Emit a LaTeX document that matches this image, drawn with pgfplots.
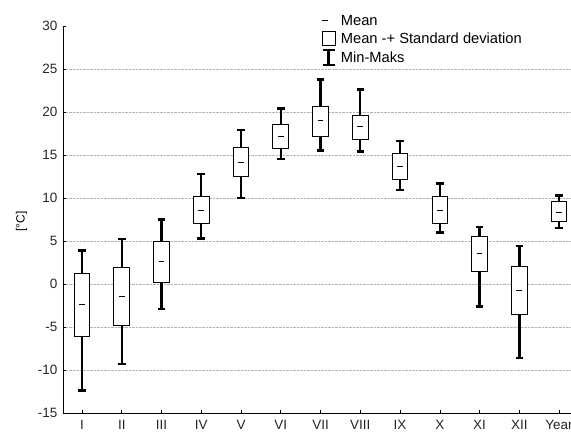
\documentclass[border=0pt]{standalone}
\usepackage{pgfplots}
\pgfplotsset{compat=1.18}
\usepgfplotslibrary{statistics}
\usepackage{pgfplotstable}
\usepackage{fontspec}
\setmainfont{Liberation Sans}

\pgfplotstableread{
x mean lo hi min max
1 -2.4 -6.05 1.2 -12.4 3.9
2 -1.4 -4.8 1.9 -9.3 5.2
3 2.6 0.2 5.0 -2.9 7.5
4 8.5 7.0 10.15 5.3 12.8
5 14.1 12.5 15.85 10.0 17.9
6 17.2 15.8 18.6 14.5 20.4
7 19.0 17.1 20.7 15.5 23.8
8 18.3 16.8 19.6 15.4 22.6
9 13.7 12.2 15.2 10.9 16.6
10 8.6 7.0 10.15 6.0 11.7
11 3.5 1.5 5.5 -2.6 6.6
12 -0.7 -3.5 2.0 -8.6 4.45
13 8.3 7.25 9.55 6.5 10.3
}\data

\begin{document}
\begin{tikzpicture}
\begin{axis}[
  name=ax,
  scale only axis,
  width=508pt, height=387pt,
  xmin=0.522, xmax=13.3,
  ymin=-15, ymax=30,
  axis x line=bottom, axis y line=left,
  axis line style={-, line width=0.9pt, black},
  xtick={1,...,13},
  xticklabels={I,II,III,IV,V,VI,VII,VIII,IX,X,XI,XII,Year},
  ytick={-10,-5,...,25},
  extra y ticks={-15,30},
  extra y tick style={grid=none},
  ymajorgrids,
  grid style={densely dotted, black!30, line width=0.5pt},
  tick align=inside,
  major tick length=3pt,
  tick style={black, line width=0.6pt},
  ticklabel style={font=\fontsize{13.5}{15}\selectfont, text=black!85},
  yticklabel style={xshift=-2pt},
  xticklabel style={yshift=-4pt},
  /pgf/number format/assume math mode=true,
  ylabel={[°C]},
  ylabel style={font=\fontsize{12}{14}\selectfont, xshift=-2pt, yshift=4pt},
  legend style={at={(rel axis cs:0.508,1.034)}, anchor=north west, draw=none, fill=none,
    font=\fontsize{14.7}{17}\selectfont, legend cell align=left, row sep=2pt, column sep=3pt, inner sep=0pt},
  boxplot/draw direction=y,
  boxplot/box extend=0.395,
  boxplot/whisker extend=0.19,
  boxplot/every box/.style={draw=black, fill=white, line width=0.9pt},
  boxplot/every whisker/.style={draw=black, line width=2.4pt},
  boxplot/draw/median/.code={\draw[black, line width=0.8pt]
    (boxplot box cs:\pgfplotsboxplotvalue{median},0.32) --
    (boxplot box cs:\pgfplotsboxplotvalue{median},0.68);},
]
\addlegendimage{legend image code/.code={\draw[line width=0.8pt] (0pt,0pt) -- (6pt,0pt); \path[draw=none, fill=none] (0pt,-7pt) rectangle (14pt,7pt);}}
\addlegendentry{Mean}
\addlegendimage{legend image code/.code={\draw[line width=0.9pt, fill=white] (0.5pt,-6.5pt) rectangle (13.5pt,7pt);}}
\addlegendentry{Mean -+ Standard deviation}
\addlegendimage{legend image code/.code={\draw[line width=2.4pt] (7pt,-7.5pt) -- (7pt,7.5pt) (1pt,-7.5pt) -- (13pt,-7.5pt) (1pt,7.5pt) -- (13pt,7.5pt); \path[draw=none, fill=none] (0pt,-7pt) rectangle (14pt,7pt);}}
\addlegendentry{Min-Maks}
\pgfplotsinvokeforeach{0,...,12}{
  \pgfplotstablegetelem{#1}{x}\of\data \let\vx\pgfplotsretval
  \pgfplotstablegetelem{#1}{min}\of\data \let\vmin\pgfplotsretval
  \pgfplotstablegetelem{#1}{lo}\of\data \let\vlo\pgfplotsretval
  \pgfplotstablegetelem{#1}{mean}\of\data \let\vmean\pgfplotsretval
  \pgfplotstablegetelem{#1}{hi}\of\data \let\vhi\pgfplotsretval
  \pgfplotstablegetelem{#1}{max}\of\data \let\vmax\pgfplotsretval
  \edef\temp{\noexpand\addplot[forget plot, draw=black,
    boxplot prepared={draw position=\vx,
      lower whisker=\vmin, lower quartile=\vlo, median=\vmean,
      upper quartile=\vhi, upper whisker=\vmax}]}
  \temp coordinates {};
}
\end{axis}
\pgfresetboundingbox
\path (ax.south west) ++(-63pt,-20pt) rectangle ++(571pt,433pt);
\end{tikzpicture}
\end{document}
